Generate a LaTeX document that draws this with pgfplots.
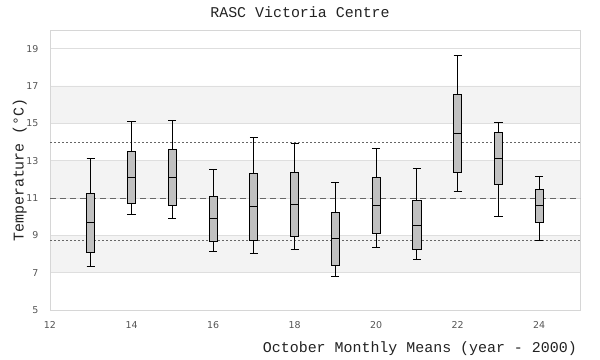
\documentclass[border=0pt]{standalone}
\usepackage{fontspec}
\setmainfont{DejaVu Sans}
\newfontfamily\monofont{Liberation Mono}
\usepackage{pgfplots}
\pgfplotsset{compat=1.18}
\usepgfplotslibrary{statistics}
\definecolor{band}{HTML}{F3F3F3}
\definecolor{gridc}{HTML}{DEDEDE}
\definecolor{framec}{HTML}{D6D6D6}
\definecolor{boxfill}{HTML}{C0C0C0}
\definecolor{refc}{HTML}{666666}
\definecolor{tickc}{HTML}{555555}
\definecolor{textc}{HTML}{222222}
\pgfplotsset{mybox/.style={solid, draw=black, fill=boxfill, line width=1bp, boxplot/draw direction=y}}
\begin{document}
\begin{tikzpicture}
\begin{axis}[
  set layers,
  at={(50bp,50bp)}, anchor=south west,
  scale only axis, width=530bp, height=280bp,
  xmin=12, xmax=25, ymin=5, ymax=20,
  xtick={12,14,...,24}, ytick={5,7,...,19},
  ymajorgrids, major grid style={gridc, line width=0.8bp},
  axis line style={framec, line width=0.8bp},
  major tick length=0pt,
  /pgf/number format/assume math mode=true,
  tick label style={font=\fontsize{9.5}{11}\selectfont, text=tickc},
  yticklabel style={xshift=-8bp},
  xticklabel style={yshift=-8bp},
  title={RASC Victoria Centre},
  title style={font=\monofont\fontsize{15}{18}\selectfont, text=textc, at={(axis description cs:0.5,1)}, anchor=base, yshift=7bp, xshift=-15bp, inner sep=0pt},
  xlabel={October Monthly Means (year - 2000)},
  xlabel style={font=\monofont\fontsize{15}{18}\selectfont, text=textc, at={(axis description cs:1,0)}, anchor=base east, yshift=-42bp, xshift=-3bp, inner sep=0pt},
  ylabel={Temperature (°C)},
  ylabel style={font=\monofont\fontsize{15}{18}\selectfont, text=textc, at={(axis description cs:0,0.5)}, anchor=base, yshift=26.5bp, inner sep=0pt},
]
% background bands
\addplot[fill=band, draw=none, on layer=axis background] coordinates {(12,7) (25,7) (25,9) (12,9) (12,7)};
\addplot[fill=band, draw=none, on layer=axis background] coordinates {(12,11) (25,11) (25,13) (12,13) (12,11)};
\addplot[fill=band, draw=none, on layer=axis background] coordinates {(12,15) (25,15) (25,17) (12,17) (12,15)};
% reference lines
\addplot[refc, dash pattern=on 1.5bp off 2.5bp, line width=0.9bp] coordinates {(12,14.0) (25,14.0)};
\addplot[refc, dash pattern=on 6bp off 4bp, line width=0.9bp] coordinates {(12,11.0) (25,11.0)};
\addplot[refc, dash pattern=on 1.5bp off 2.5bp, line width=0.9bp] coordinates {(12,8.7) (25,8.7)};
% box plots
\addplot[mybox, boxplot prepared={draw position=13, lower whisker=7.31, lower quartile=8.06, median=9.67, upper quartile=11.22, upper whisker=13.10, box extend=0.2, whisker extend=0.2}] coordinates {};
\addplot[mybox, boxplot prepared={draw position=14, lower whisker=10.10, lower quartile=10.69, median=12.08, upper quartile=13.48, upper whisker=15.12, box extend=0.2, whisker extend=0.2}] coordinates {};
\addplot[mybox, boxplot prepared={draw position=15, lower whisker=9.88, lower quartile=10.58, median=12.08, upper quartile=13.58, upper whisker=15.17, box extend=0.2, whisker extend=0.2}] coordinates {};
\addplot[mybox, boxplot prepared={draw position=16, lower whisker=8.11, lower quartile=8.65, median=9.88, upper quartile=11.06, upper whisker=12.51, box extend=0.2, whisker extend=0.2}] coordinates {};
\addplot[mybox, boxplot prepared={draw position=17, lower whisker=8.00, lower quartile=8.70, median=10.53, upper quartile=12.30, upper whisker=14.23, box extend=0.2, whisker extend=0.2}] coordinates {};
\addplot[mybox, boxplot prepared={draw position=18, lower whisker=8.22, lower quartile=8.92, median=10.63, upper quartile=12.35, upper whisker=13.91, box extend=0.2, whisker extend=0.2}] coordinates {};
\addplot[mybox, boxplot prepared={draw position=19, lower whisker=6.82, lower quartile=7.39, median=8.81, upper quartile=10.20, upper whisker=11.81, box extend=0.2, whisker extend=0.2}] coordinates {};
\addplot[mybox, boxplot prepared={draw position=20, lower whisker=8.33, lower quartile=9.08, median=10.58, upper quartile=12.08, upper whisker=13.64, box extend=0.2, whisker extend=0.2}] coordinates {};
\addplot[mybox, boxplot prepared={draw position=21, lower whisker=7.68, lower quartile=8.23, median=9.51, upper quartile=10.85, upper whisker=12.60, box extend=0.2, whisker extend=0.2}] coordinates {};
\addplot[mybox, boxplot prepared={draw position=22, lower whisker=11.33, lower quartile=12.35, median=14.44, upper quartile=16.53, upper whisker=18.63, box extend=0.2, whisker extend=0.2}] coordinates {};
\addplot[mybox, boxplot prepared={draw position=23, lower whisker=9.99, lower quartile=11.71, median=13.10, upper quartile=14.50, upper whisker=15.03, box extend=0.2, whisker extend=0.2}] coordinates {};
\addplot[mybox, boxplot prepared={draw position=24, lower whisker=8.70, lower quartile=9.67, median=10.60, upper quartile=11.44, upper whisker=12.14, box extend=0.2, whisker extend=0.2}] coordinates {};
\end{axis}
\path (0,0) rectangle (600bp,360bp);
\end{tikzpicture}
\end{document}
